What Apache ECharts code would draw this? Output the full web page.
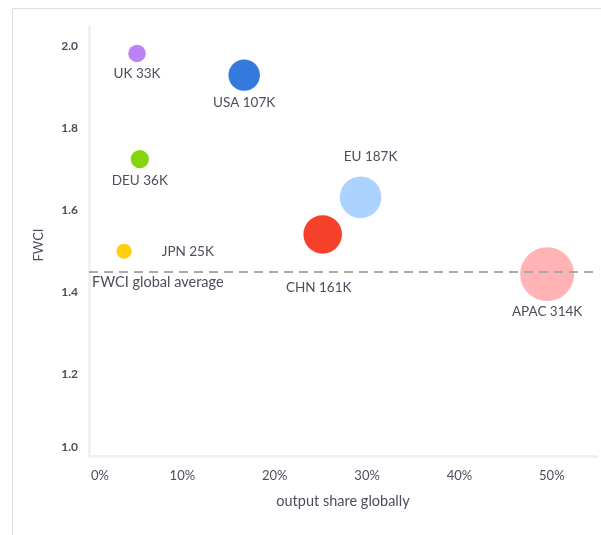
<!DOCTYPE html>
<html>
<head>
<meta charset="utf-8">
<script src="https://cdn.jsdelivr.net/npm/echarts@6/dist/echarts.min.js"></script>
<style>
  html, body { margin: 0; padding: 0; background: #ffffff; }
  #chart { width: 601px; height: 535px; }
</style>
</head>
<body>
<div id="chart"></div>
<script>
// Regions, their share of global output, FWCI and publication counts (thousands)
const regions = ['UK', 'USA', 'DEU', 'JPN', 'CHN', 'EU', 'APAC'];
const outputShare = [0.052, 0.168, 0.055, 0.038, 0.253, 0.294, 0.496];
const fwci = [1.983, 1.930, 1.725, 1.500, 1.541, 1.632, 1.444];
const pubsK = [33, 107, 36, 25, 161, 187, 314];
const colors = ['#bb82f6', '#3479dc', '#86d40a', '#ffcf0a', '#f5402b', '#acd2ff', '#ffb3b4'];
const globalAverage = 1.45;
const xTicks = [0, 0.1, 0.2, 0.3, 0.4, 0.5];
const yTicks = [1.0, 1.2, 1.4, 1.6, 1.8, 2.0];

// Where each bubble's label sits relative to the bubble
const labelPlacement = {
  UK: { position: 'bottom', distance: 4 },
  USA: { position: 'bottom', distance: 5 },
  DEU: { position: 'bottom', distance: 5 },
  JPN: { position: 'right', distance: 30 },
  CHN: { position: 'bottom', distance: 27, offset: [-4, 0] },
  EU: { position: 'top', distance: 13, offset: [10, 0] },
  APAC: { position: 'bottom', distance: 4 }
};

const textColor = '#4a4f5b';
const fontFamily = 'Lato, "Open Sans", sans-serif';

const points = regions.map((r, i) => ({
  name: r,
  value: [outputShare[i], fwci[i], pubsK[i]],
  itemStyle: { color: colors[i], opacity: 1 },
  label: Object.assign({
    show: true,
    formatter: r + ' ' + pubsK[i] + 'K'
  }, labelPlacement[r])
}));

const chart = echarts.init(document.getElementById('chart'), null, { renderer: 'canvas' });
chart.setOption({
  backgroundColor: '#ffffff',
  animation: false,
  textStyle: { fontFamily: fontFamily },
  graphic: [{
    type: 'rect',
    shape: { x: 12.5, y: 8.5, width: 600, height: 540 },
    style: { fill: 'none', stroke: '#dcdcdc', lineWidth: 1 },
    z: -1
  }],
  grid: { left: 89, right: 4, top: 26, bottom: 79 },
  xAxis: {
    type: 'value',
    min: 0,
    max: 0.55,
    interval: 0.1,
    name: 'output share globally',
    nameLocation: 'middle',
    nameGap: 38,
    nameTextStyle: { color: textColor, fontSize: 14.5, fontFamily: fontFamily },
    axisLine: { show: true, lineStyle: { color: '#f1f1f1', width: 3 } },
    axisTick: { show: false },
    splitLine: { show: false },
    axisLabel: {
      color: textColor,
      fontSize: 13,
      margin: 13,
      showMaxLabel: false,
      alignMinLabel: 'left',
      padding: [0, 0, 0, 2],
      formatter: v => xTicks.some(t => Math.abs(t - v) < 1e-9) ? Math.round(v * 100) + '%' : ''
    }
  },
  yAxis: {
    type: 'value',
    min: 1.0,
    max: 2.05,
    interval: 0.2,
    name: 'FWCI',
    nameLocation: 'middle',
    nameGap: 44,
    nameTextStyle: { color: textColor, fontSize: 13, fontFamily: fontFamily, padding: [0, 0, 0, -8] },
    axisLine: { show: true, lineStyle: { color: '#f1f1f1', width: 3 } },
    axisTick: { show: false },
    splitLine: { show: false },
    axisLabel: {
      color: textColor,
      fontSize: 12,
      fontWeight: 'bold',
      margin: 11,
      showMaxLabel: false,
      verticalAlignMinLabel: 'bottom',
      padding: [0, 0, 3, 0],
      formatter: v => yTicks.some(t => Math.abs(t - v) < 1e-9) ? v.toFixed(1) : ''
    }
  },
  series: [{
    type: 'scatter',
    data: points,
    symbolSize: d => 3.04 * Math.sqrt(d[2]),
    clip: false,
    label: {
      color: textColor,
      fontSize: 13.5,
      fontFamily: fontFamily
    },
    markLine: {
      silent: true,
      symbol: ['none', 'none'],
      lineStyle: { color: '#a9a9a9', width: 2, type: [9, 6] },
      label: {
        show: true,
        position: 'insideStartBottom',
        distance: [3, 3],
        formatter: 'FWCI global average',
        color: textColor,
        fontSize: 14.5,
        fontFamily: fontFamily
      },
      data: [{ yAxis: globalAverage }]
    }
  }]
});
</script>
</body>
</html>
